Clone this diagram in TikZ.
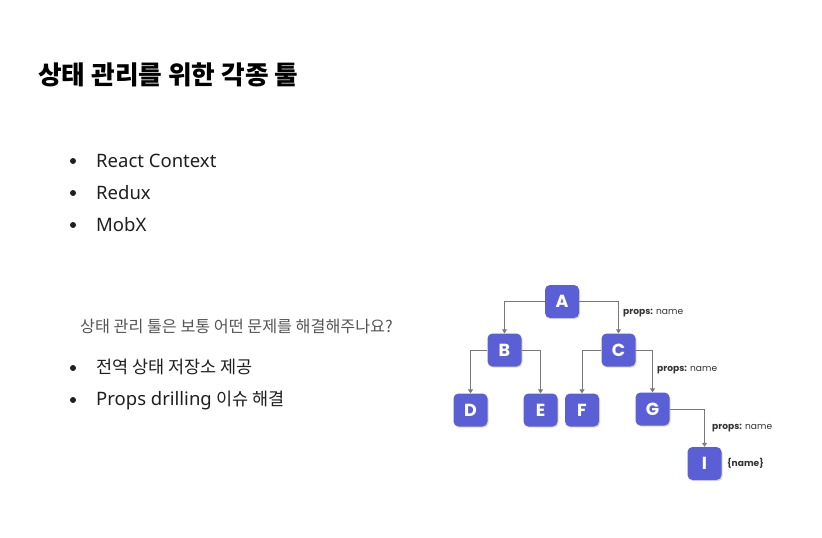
\documentclass[tikz,border=0pt]{standalone}
\usepackage{fontspec}
\setmainfont{Noto Sans}
\newfontfamily\kr{Noto Sans CJK KR}
\newfontfamily\lat{Noto Sans}
\newfontfamily\pop{Poppins}
\usetikzlibrary{arrows.meta,shadows}
\definecolor{nodeblue}{RGB}{91,95,214}
\definecolor{linegray}{RGB}{120,120,120}
\definecolor{qgray}{RGB}{85,85,85}
\tikzset{
  tnode/.style={fill=nodeblue, rounded corners=5pt, minimum width=34pt, minimum height=33pt,
    inner sep=0pt, text=white, font=\pop\fontsize{17.5}{17}\selectfont\bfseries,
    drop shadow={opacity=0.3, shadow xshift=1pt, shadow yshift=-1.2pt}},
  conn/.style={draw=linegray, line width=0.9pt, -{Triangle[length=4pt,width=5pt]}},
  plabel/.style={anchor=west, inner sep=0pt, font=\pop\fontsize{9.1}{9}\selectfont, text=black!80},
  bodytxt/.style={anchor=base west, inner sep=0pt, font=\fontsize{18.5}{19}\selectfont, text=black!88},
  bul/.style={circle, fill=black!88, inner sep=0pt, minimum size=6pt}
}
\begin{document}
\begin{tikzpicture}[x=1pt,y=-1pt]
\useasboundingbox[fill=white] (0,0) rectangle (822,538);
% title
\node[anchor=base west, inner sep=0pt, font=\kr\fontsize{25.7}{26}\selectfont\bfseries] (title) at (38,84) {상태 관리를 위한 각종 툴};
% bullets
\node[bul] (b1) at (73,161) {};
\node[bodytxt] (t1) at (96,167) {\lat React Context};
\node[bul] (b2) at (73,193) {};
\node[bodytxt] (t2) at (96,199) {\lat Redux};
\node[bul] (b3) at (73,225) {};
\node[bodytxt] (t3) at (96,231) {\lat MobX};
\node[anchor=base west, inner sep=0pt, font=\kr\fontsize{16.2}{17}\selectfont, text=qgray] (q) at (80,332) {상태 관리 툴은 보통 어떤 문제를 해결해주나요?};
\node[bul] (b4) at (73,368) {};
\node[bodytxt, font=\kr\fontsize{17.5}{18}\selectfont] (t4) at (96,373) {전역 상태 저장소 제공};
\node[bul] (b5) at (73,400) {};
\node[bodytxt] (t5) at (96,405) {{\lat Props drilling} {\kr\fontsize{17.5}{18}\selectfont 이슈 해결}};
% tree
\node[tnode] (A) at (562,301.5) {A};
\node[tnode] (B) at (504.5,350) {B};
\node[tnode] (C) at (618.5,350) {C};
\node[tnode] (D) at (470.5,410) {D};
\node[tnode] (E) at (540.5,410) {E};
\node[tnode] (F) at (582,410) {F};
\node[tnode] (G) at (652.5,409) {G};
\node[tnode] (I) at (704.5,463.5) {I};
\draw[conn] (A.west) -| (B.north);
\draw[conn] (A.east) -| (C.north);
\draw[conn] (B.west) -| (D.north);
\draw[conn] (B.east) -| (E.north);
\draw[conn] (C.west) -| (F.north);
\draw[conn] (C.east) -| (G.north);
\draw[conn] (G.east) -| (I.north);
\node[plabel] (l1) at (623,313) {\textbf{props:} name};
\node[plabel] (l2) at (657,370) {\textbf{props:} name};
\node[plabel] (l3) at (712,428) {\textbf{props:} name};
\node[plabel] (l4) at (727,463) {\textbf{\{name\}}};
\end{tikzpicture}
\end{document}
